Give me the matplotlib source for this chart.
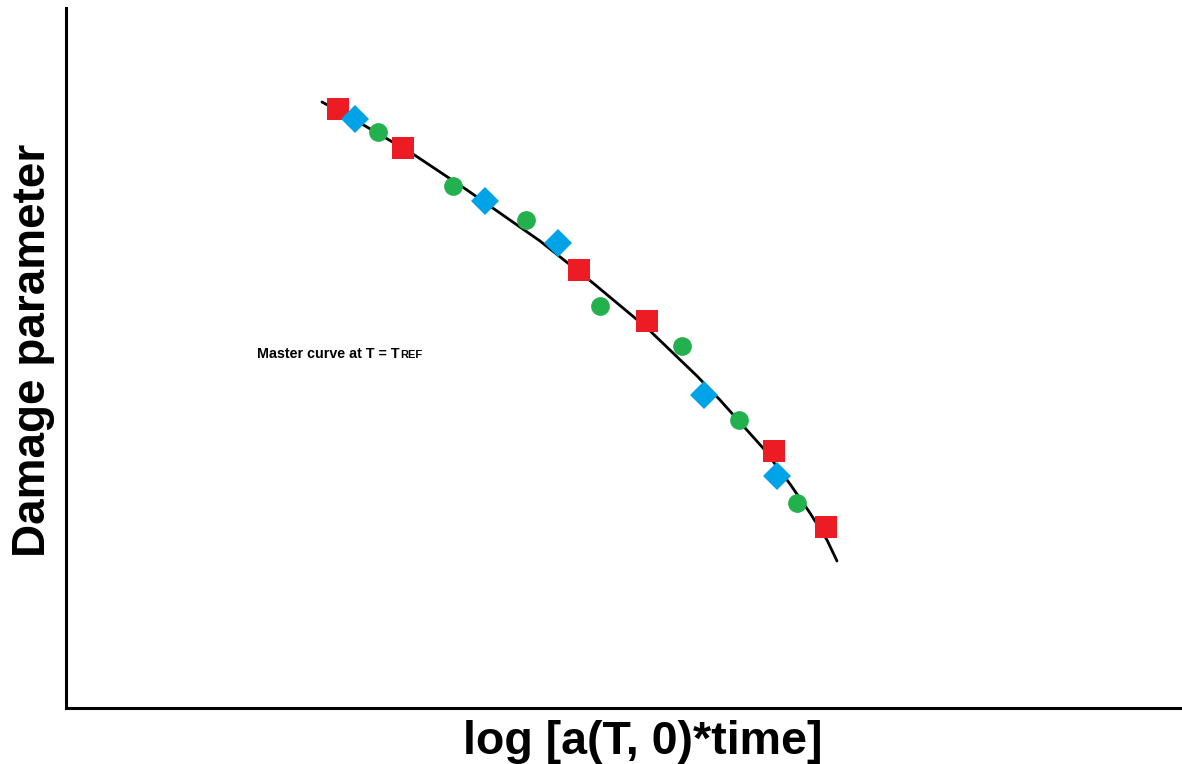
import matplotlib.pyplot as plt

plt.rcParams['font.family'] = ['Liberation Sans', 'DejaVu Sans']

# coordinates (arbitrary units)
curve_x = [2.56, 2.89, 3.47, 4.01, 4.74, 5.27, 5.81, 6.31, 6.54, 6.97, 7.24, 7.44, 7.61, 7.71]
curve_y = [6.06, 5.88, 5.54, 5.18, 4.67, 4.25, 3.80, 3.32, 3.08, 2.60, 2.24, 1.95, 1.68, 1.47]

red_x = [2.72, 3.37, 5.13, 5.81, 7.08, 7.60]
red_y = [5.99, 5.60, 4.38, 3.87, 2.57, 1.81]

blue_x = [2.89, 4.19, 4.92, 6.38, 7.11]
blue_y = [5.89, 5.07, 4.65, 3.13, 2.32]

green_x = [3.12, 3.87, 4.60, 5.34, 6.16, 6.73, 7.31]
green_y = [5.76, 5.22, 4.88, 4.02, 3.62, 2.88, 2.05]

fig = plt.figure(figsize=(11.82, 7.64), dpi=100)
ax = fig.add_axes([66 / 1182, 56 / 764, 1116 / 1182, 700 / 764])
ax.set_xlim(0, 11.16)
ax.set_ylim(0, 7.0)

ax.plot(curve_x, curve_y, color='black', lw=2, zorder=1,
        solid_joinstyle='round', solid_capstyle='round')
ax.plot(red_x, red_y, 's', color='#ED1C24', ms=15.5, mew=0, zorder=2)
ax.plot(blue_x, blue_y, 'D', color='#00A2E8', ms=14.5, mew=0, zorder=3)
ax.plot(green_x, green_y, 'o', color='#22B14C', ms=13.5, mew=0, zorder=4)

t = ax.text(1.91, 3.54, 'Master curve at T = T', fontsize=10.3, fontweight='bold',
            va='center', ha='left')
ax.annotate('REF', xy=(1, 0), xycoords=t, xytext=(0.3, 0.8), textcoords='offset points',
            fontsize=8, fontweight='bold', va='bottom', ha='left')

for s in ['top', 'right']:
    ax.spines[s].set_visible(False)
for s in ['left', 'bottom']:
    ax.spines[s].set_linewidth(2.2)
ax.set_xticks([])
ax.set_yticks([])
ax.set_xlabel('log [a(T, 0)*time]', fontsize=33.5, fontweight='bold')
ax.set_ylabel('Damage parameter', fontsize=33, fontweight='bold')
ax.xaxis.set_label_coords(0.517, -0.017, transform=ax.transAxes)
ax.xaxis.label.set_va('top')
ax.yaxis.set_label_coords(-0.010, 0.511, transform=ax.transAxes)
ax.yaxis.label.set_va('bottom')

plt.savefig('out.png', dpi=100)
